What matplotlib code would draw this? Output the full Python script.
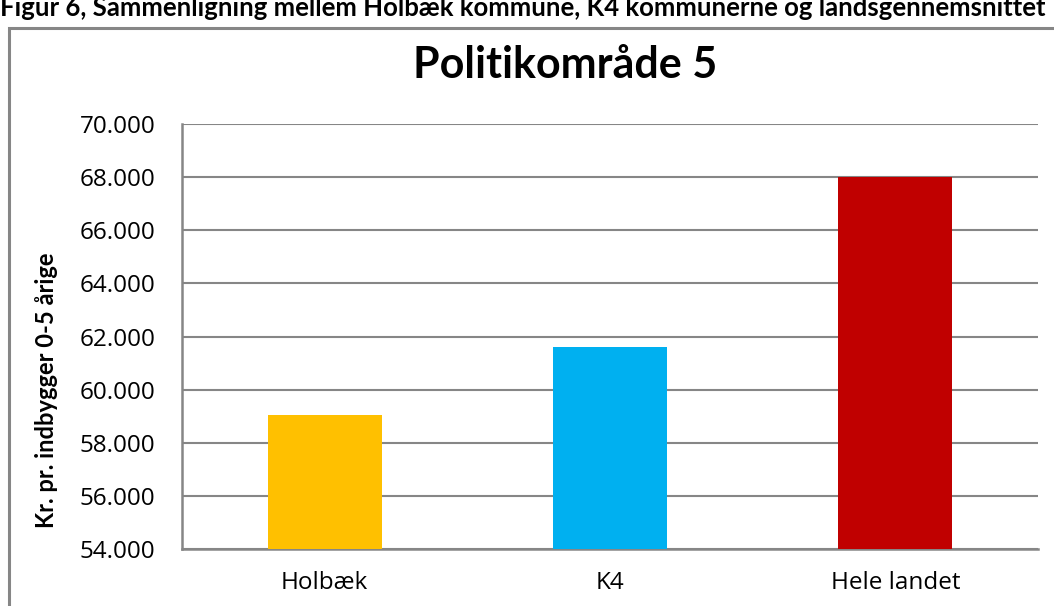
import matplotlib
matplotlib.use("Agg")
import matplotlib.pyplot as plt
from matplotlib.patches import Rectangle
from matplotlib.ticker import FuncFormatter, MultipleLocator

categories = ["Holbæk", "K4", "Hele landet"]
values = [59050, 61600, 68000]
colors = ["#FFC000", "#00B0F0", "#C00000"]
title = "Politikområde 5"
ylabel = "Kr. pr. indbygger 0-5 årige"
caption = "Figur 6, Sammenligning mellem Holbæk kommune, K4 kommunerne og landsgennemsnittet"

W, H = 1054, 606
fig = plt.figure(figsize=(W / 100, H / 100), dpi=100)
fig.patch.set_facecolor("white")

# outer chart frame (extends past right/bottom edges)
fig.patches.append(Rectangle((9 / W, -0.1), 1.2, (H - 28) / H + 0.1,
                             transform=fig.transFigure, fill=False,
                             edgecolor="#868686", linewidth=2.2))

# cut-off caption at top
fig.text(0 / W, 1 - 16 / H, caption, fontsize=18.5, fontweight="bold",
         family=["Lato", "DejaVu Sans"], ha="left", va="baseline", color="black")

ax = fig.add_axes([182 / W, 1 - 549 / H, (1038 - 182) / W, (549 - 124) / H])
x = range(len(categories))
ax.bar(x, values, width=0.4, color=colors, zorder=3)
ax.set_ylim(54000, 70000)
ax.set_xlim(-0.5, len(categories) - 0.5)
ax.yaxis.set_major_locator(MultipleLocator(2000))
ax.yaxis.set_major_formatter(FuncFormatter(lambda v, p: f"{int(v):,}".replace(",", ".")))
ax.set_xticks(list(x))
ax.set_xticklabels(categories)
ax.grid(axis="y", color="#868686", linewidth=1.5, zorder=0)
for s in ["top", "right"]:
    ax.spines[s].set_visible(False)
for s in ["left", "bottom"]:
    ax.spines[s].set_color("#868686")
    ax.spines[s].set_linewidth(1.8)
ax.tick_params(axis="both", length=0, labelsize=17.5, colors="black")
ax.tick_params(axis="y", pad=19)
ax.tick_params(axis="x", pad=16)
for lab in ax.get_xticklabels() + ax.get_yticklabels():
    lab.set_family(["Open Sans", "DejaVu Sans"])

fig.text(565 / W, 1 - 65 / H, title, fontsize=31, fontweight="bold",
         family=["Lato", "DejaVu Sans"], ha="center", va="center")
fig.text(47 / W, 1 - 390 / H, ylabel, fontsize=17, fontweight="bold",
         family=["Lato", "DejaVu Sans"],
         ha="center", va="center", rotation=90)

fig.savefig("out.png", dpi=100)
